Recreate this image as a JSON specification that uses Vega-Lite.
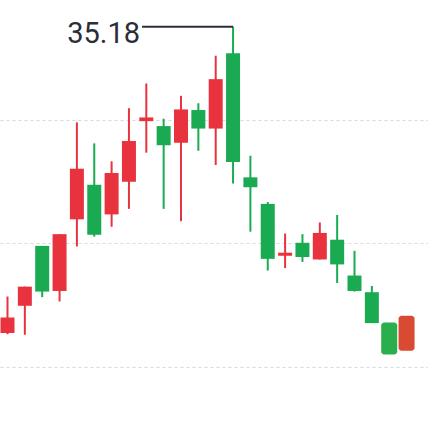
{
  "$schema": "https://vega.github.io/schema/vega-lite/v6.json",
  "width": 428,
  "height": 432,
  "padding": 0,
  "autosize": {"type": "none"},
  "background": "white",
  "config": {"view": {"stroke": null}},
  "datasets": {
    "candles": [
      {"i": 1, "open": 30.22, "high": 30.81, "low": 30.20, "close": 30.47},
      {"i": 2, "open": 30.66, "high": 30.97, "low": 30.19, "close": 30.97},
      {"i": 3, "open": 31.63, "high": 31.63, "low": 30.80, "close": 30.89},
      {"i": 4, "open": 30.90, "high": 31.82, "low": 30.73, "close": 31.82},
      {"i": 5, "open": 32.06, "high": 33.63, "low": 31.62, "close": 32.88},
      {"i": 6, "open": 32.62, "high": 33.29, "low": 31.78, "close": 31.81},
      {"i": 7, "open": 32.14, "high": 33.00, "low": 31.94, "close": 32.81},
      {"i": 8, "open": 32.67, "high": 33.86, "low": 32.23, "close": 33.33},
      {"i": 9, "open": 33.65, "high": 34.26, "low": 33.14, "close": 33.71},
      {"i": 10, "open": 33.57, "high": 33.69, "low": 32.23, "close": 33.26},
      {"i": 11, "open": 33.30, "high": 34.06, "low": 32.03, "close": 33.84},
      {"i": 12, "open": 33.83, "high": 33.94, "low": 33.17, "close": 33.53},
      {"i": 13, "open": 33.53, "high": 34.71, "low": 32.94, "close": 34.33},
      {"i": 14, "open": 34.75, "high": 35.18, "low": 32.64, "close": 32.99},
      {"i": 15, "open": 32.74, "high": 33.09, "low": 31.86, "close": 32.58},
      {"i": 16, "open": 32.31, "high": 32.34, "low": 31.23, "close": 31.42},
      {"i": 17, "open": 31.47, "high": 31.83, "low": 31.27, "close": 31.52},
      {"i": 18, "open": 31.68, "high": 31.82, "low": 31.37, "close": 31.45},
      {"i": 19, "open": 31.41, "high": 32.01, "low": 31.41, "close": 31.84},
      {"i": 20, "open": 31.73, "high": 32.13, "low": 31.03, "close": 31.33},
      {"i": 21, "open": 31.15, "high": 31.55, "low": 30.89, "close": 30.90},
      {"i": 22, "open": 30.88, "high": 30.98, "low": 30.38, "close": 30.38},
      {"i": 23, "open": 30.39, "high": 30.39, "low": 29.87, "close": 29.87},
      {"i": 24, "open": 29.93, "high": 30.50, "low": 29.93, "close": 30.50}
    ],
    "annotation": [
      {"i": 14, "value": 35.18, "label": "35.18"}
    ]
  },
  "layer": [
    {
      "data": {"name": "candles"},
      "transform": [{"filter": "datum.i <= 22"}],
      "mark": {"type": "rule", "strokeWidth": 2},
      "encoding": {
        "x": {"field": "i", "type": "quantitative", "scale": {"domain": [0.5677, 25.236], "nice": false, "zero": false, "padding": 0}, "axis": null},
        "y": {"field": "low", "type": "quantitative", "scale": {"domain": [28.616, 35.612], "nice": false, "zero": false, "padding": 0},
          "axis": {"values": [29.669, 31.669, 33.669], "labels": false, "ticks": false, "domain": false, "title": null, "grid": true, "gridColor": "#d6d9dd", "gridDash": [3, 3], "gridWidth": 1}},
        "y2": {"field": "high"},
        "color": {"condition": {"test": "datum.close >= datum.open", "value": "#e8333f"}, "value": "#1aab52"}
      }
    },
    {
      "data": {"name": "candles"},
      "transform": [{"filter": "datum.i <= 22"}],
      "mark": {"type": "bar", "size": 14},
      "encoding": {
        "x": {"field": "i", "type": "quantitative"},
        "y": {"field": "open", "type": "quantitative"},
        "y2": {"field": "close"},
        "color": {"condition": {"test": "datum.close >= datum.open", "value": "#e8333f"}, "value": "#1aab52"}
      }
    },
    {
      "data": {"name": "candles"},
      "transform": [{"filter": "datum.i > 22"}],
      "mark": {"type": "bar", "size": 16, "cornerRadius": 3},
      "encoding": {
        "x": {"field": "i", "type": "quantitative"},
        "y": {"field": "open", "type": "quantitative"},
        "y2": {"field": "close"},
        "color": {"condition": {"test": "datum.close >= datum.open", "value": "#d84b32"}, "value": "#2bae4c"}
      }
    },
    {
      "data": {"name": "annotation"},
      "mark": {"type": "rule", "strokeWidth": 2, "color": "#2a2e39", "xOffset": -91},
      "encoding": {
        "x": {"field": "i", "type": "quantitative"},
        "x2": {"field": "i"},
        "y": {"field": "value", "type": "quantitative"}
      }
    },
    {
      "data": {"name": "annotation"},
      "mark": {"type": "text", "font": "Roboto", "fontSize": 29, "color": "#2a2e39", "align": "right", "baseline": "alphabetic", "dx": -93, "dy": 16},
      "encoding": {
        "x": {"field": "i", "type": "quantitative"},
        "y": {"field": "value", "type": "quantitative"},
        "text": {"field": "label"}
      }
    }
  ]
}
